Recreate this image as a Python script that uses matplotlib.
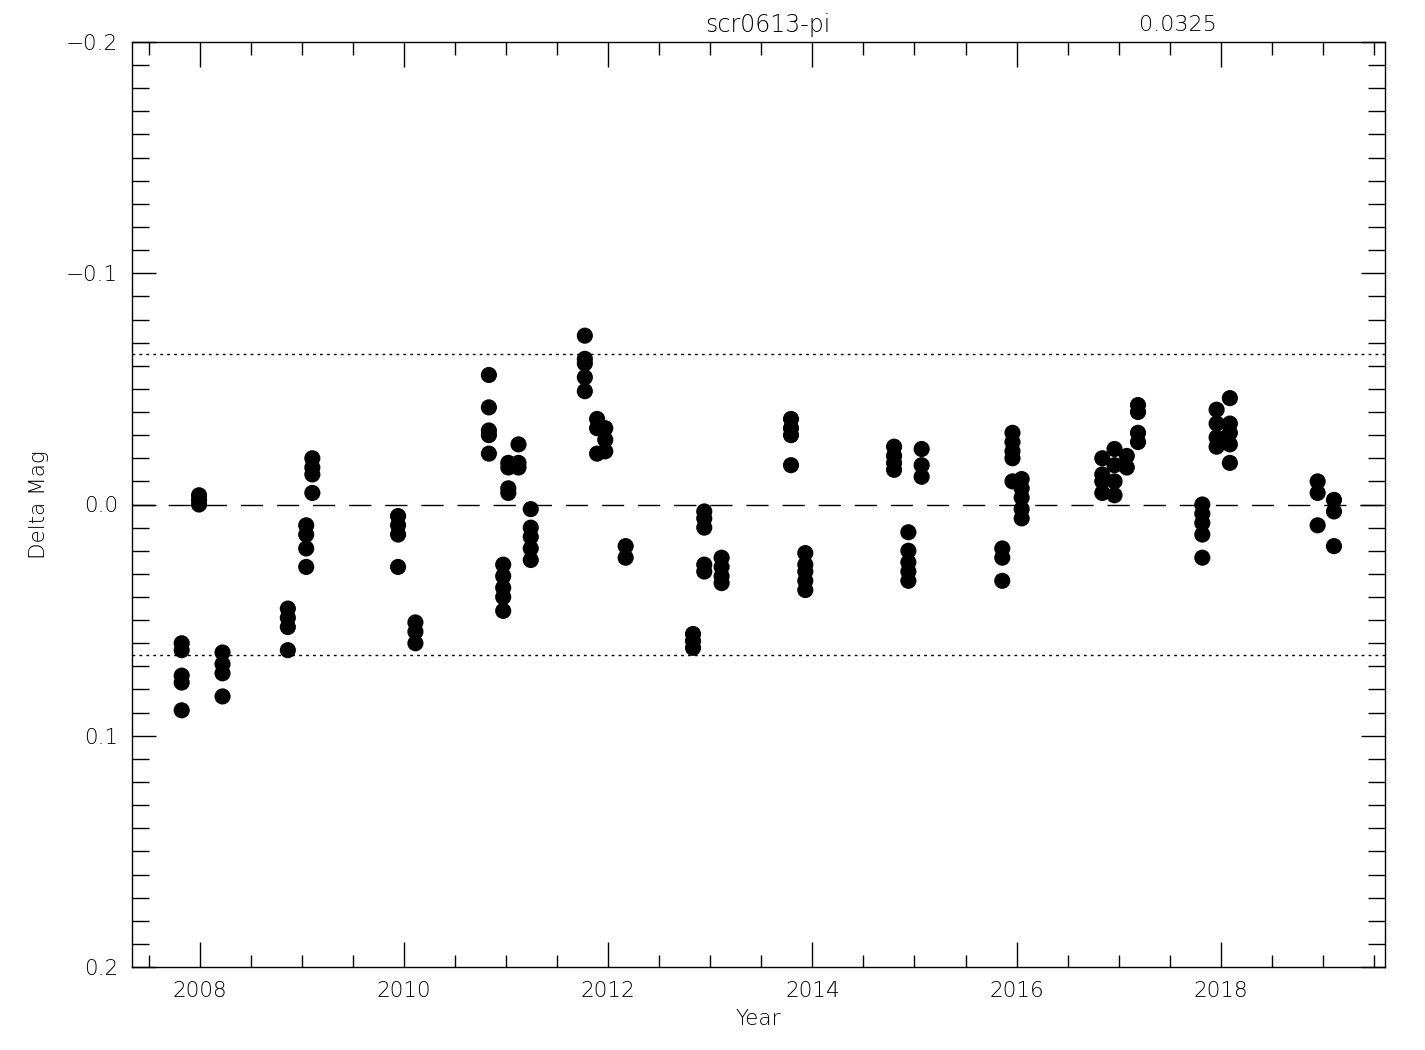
import matplotlib
matplotlib.use("Agg")
import matplotlib.pyplot as plt
from matplotlib.ticker import MultipleLocator, FixedLocator

# star name and scatter level shown at the top
name = "scr0613-pi"
sigma = 0.0325

years = [2007.82, 2007.82, 2007.82, 2007.82, 2007.82,
         2007.99, 2007.99, 2007.99,
         2008.22, 2008.22, 2008.22, 2008.22,
         2008.86, 2008.86, 2008.86, 2008.86,
         2009.04, 2009.04, 2009.04, 2009.04,
         2009.10, 2009.10, 2009.10, 2009.10,
         2009.94, 2009.94, 2009.94, 2009.94,
         2010.11, 2010.11, 2010.11,
         2010.83, 2010.83, 2010.83, 2010.83, 2010.83,
         2010.97, 2010.97, 2010.97, 2010.97, 2010.97,
         2011.02, 2011.02, 2011.02, 2011.02,
         2011.12, 2011.12, 2011.12,
         2011.24, 2011.24, 2011.24, 2011.24, 2011.24,
         2011.77, 2011.77, 2011.77, 2011.77, 2011.77,
         2011.89, 2011.89, 2011.89,
         2011.97, 2011.97, 2011.97,
         2012.17, 2012.17,
         2012.83, 2012.83, 2012.83,
         2012.94, 2012.94, 2012.94, 2012.94, 2012.94,
         2013.11, 2013.11, 2013.11, 2013.11,
         2013.79, 2013.79, 2013.79, 2013.79,
         2013.93, 2013.93, 2013.93, 2013.93, 2013.93,
         2014.80, 2014.80, 2014.80, 2014.80,
         2014.94, 2014.94, 2014.94, 2014.94, 2014.94,
         2015.07, 2015.07, 2015.07,
         2015.86, 2015.86, 2015.86,
         2015.96, 2015.96, 2015.96, 2015.96, 2015.96,
         2016.05, 2016.05, 2016.05, 2016.05, 2016.05,
         2016.84, 2016.84, 2016.84, 2016.84,
         2016.96, 2016.96, 2016.96, 2016.96,
         2017.08, 2017.08,
         2017.19, 2017.19, 2017.19, 2017.19,
         2017.82, 2017.82, 2017.82, 2017.82, 2017.82,
         2017.96, 2017.96, 2017.96, 2017.96,
         2018.09, 2018.09, 2018.09, 2018.09, 2018.09,
         2018.95, 2018.95, 2018.95,
         2019.11, 2019.11, 2019.11]
dmag = [0.060, 0.063, 0.074, 0.077, 0.089,
        -0.004, -0.002, 0.000,
        0.064, 0.069, 0.073, 0.083,
        0.045, 0.049, 0.053, 0.063,
        0.009, 0.013, 0.019, 0.027,
        -0.020, -0.016, -0.013, -0.005,
        0.005, 0.009, 0.013, 0.027,
        0.051, 0.055, 0.060,
        -0.056, -0.042, -0.032, -0.030, -0.022,
        0.026, 0.031, 0.036, 0.040, 0.046,
        -0.018, -0.016, -0.007, -0.005,
        -0.026, -0.018, -0.016,
        0.002, 0.010, 0.014, 0.019, 0.024,
        -0.073, -0.063, -0.061, -0.055, -0.049,
        -0.037, -0.033, -0.022,
        -0.033, -0.028, -0.023,
        0.018, 0.023,
        0.056, 0.059, 0.062,
        0.003, 0.006, 0.010, 0.026, 0.029,
        0.023, 0.027, 0.031, 0.034,
        -0.037, -0.033, -0.030, -0.017,
        0.021, 0.026, 0.029, 0.033, 0.037,
        -0.025, -0.021, -0.018, -0.015,
        0.012, 0.020, 0.025, 0.029, 0.033,
        -0.024, -0.017, -0.012,
        0.019, 0.023, 0.033,
        -0.031, -0.027, -0.023, -0.020, -0.010,
        -0.011, -0.007, -0.003, 0.002, 0.006,
        -0.020, -0.013, -0.010, -0.005,
        -0.024, -0.017, -0.010, -0.004,
        -0.021, -0.016,
        -0.043, -0.040, -0.031, -0.027,
        0.000, 0.004, 0.008, 0.013, 0.023,
        -0.041, -0.035, -0.029, -0.025,
        -0.046, -0.035, -0.031, -0.026, -0.018,
        -0.010, -0.005, 0.009,
        -0.002, 0.003, 0.018]

plt.rcParams['font.family'] = 'DejaVu Sans'
plt.rcParams['font.weight'] = 'light'
plt.rcParams['axes.labelweight'] = 'light'

fig = plt.figure(figsize=(14.25, 10.5), dpi=100)
ax = fig.add_axes([132/1425, 83/1050, 1253/1425, 925/1050])

ax.scatter(years, dmag, s=135, c='black', edgecolors='none', zorder=3)

# zero line and +-2 sigma lines
ax.axhline(0.0, color='black', lw=1, dashes=(16, 10))
ax.axhline(2*sigma, color='black', lw=1, dashes=(2, 3))
ax.axhline(-2*sigma, color='black', lw=1, dashes=(2, 3))

ax.set_xlim(2007.333, 2019.61)
ax.set_ylim(0.2, -0.2)

ax.xaxis.set_major_locator(MultipleLocator(2))
ax.xaxis.set_minor_locator(MultipleLocator(0.5))
ax.yaxis.set_major_locator(FixedLocator([-0.2, -0.1, 0.0, 0.1, 0.2]))
ax.yaxis.set_minor_locator(MultipleLocator(0.01))
ax.set_yticklabels(['\u22120.2', '\u22120.1', '0.0', '0.1', '0.2'])

ax.tick_params(which='both', direction='in', top=True, right=True,
               labelsize=15.5, width=1, color='black', pad=10)
ax.tick_params(axis='x', which='major', length=18)
ax.tick_params(axis='x', which='minor', length=9)
ax.tick_params(axis='y', which='major', length=17)
ax.tick_params(axis='y', which='minor', length=12)
for sp in ax.spines.values():
    sp.set_linewidth(1)

ax.set_xlabel("Year", fontsize=15.5, fontweight='light', labelpad=6)
ax.set_ylabel("Delta Mag", fontsize=15.5, fontweight='light', labelpad=12)

fig.text(768/1425, 1 - 25/1050, name, ha='center', va='center', fontsize=17)
fig.text(1178/1425, 1 - 25/1050, "%.4f" % sigma, ha='center', va='center', fontsize=16)

fig.savefig("out.png", dpi=100)
